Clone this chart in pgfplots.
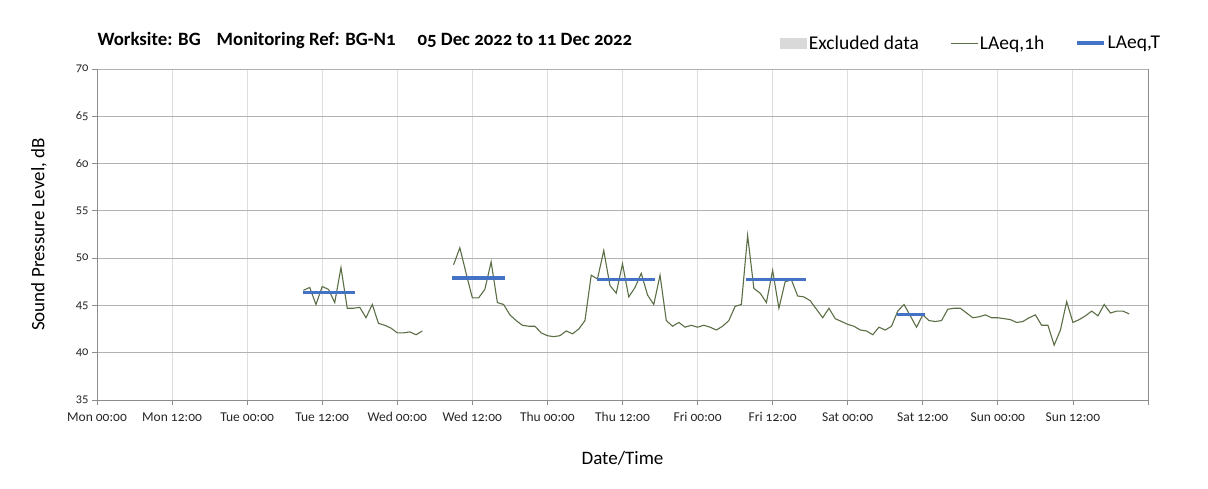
\documentclass[border=0pt]{standalone}
\usepackage{fontspec}
\setmainfont{Carlito}[Numbers=OldStyle]
\usepackage{pgfplots}
\pgfplotsset{compat=1.18}
\usepackage{pgfplotstable}

\definecolor{lineolive}{HTML}{5B6E45}
\definecolor{eqblue}{HTML}{4472C4}
\definecolor{excl}{HTML}{D9D9D9}

% hours from Mon 05 Dec 00:00, LAeq,1h in dB
\pgfplotstableread{
h v
33 46.6
34 46.9
35 45.1
36 47.0
37 46.7
38 45.3
39 49.0
40 44.7
41 44.7
42 44.8
43 43.7
44 45.1
45 43.1
46 42.9
47 42.6
48 42.1
49 42.1
50 42.2
51 41.9
52 42.3
}\tueseg

\pgfplotstableread{
h v
57 49.3
58 51.1
59 48.4
60 45.8
61 45.8
62 46.7
63 49.6
64 45.3
65 45.1
66 44.0
67 43.4
68 42.9
69 42.8
70 42.8
71 42.1
72 41.8
73 41.7
74 41.8
75 42.3
76 42.0
77 42.5
78 43.4
79 48.2
80 47.8
81 50.8
82 47.1
83 46.3
84 49.4
85 45.9
86 46.9
87 48.4
88 46.1
89 45.1
90 48.2
91 43.4
92 42.8
93 43.2
94 42.7
95 42.9
96 42.7
97 42.9
98 42.7
99 42.4
100 42.8
101 43.4
102 44.9
103 45.1
104 52.4
105 46.8
106 46.3
107 45.3
108 48.7
109 44.7
110 47.5
111 47.7
112 46.0
113 45.9
114 45.5
115 44.6
116 43.7
117 44.7
118 43.6
119 43.3
120 43.0
121 42.8
122 42.4
123 42.3
124 41.9
125 42.7
126 42.4
127 42.8
128 44.4
129 45.1
130 43.9
131 42.7
132 44.0
133 43.4
134 43.3
135 43.4
136 44.6
137 44.7
138 44.7
139 44.2
140 43.7
141 43.8
142 44.0
143 43.7
144 43.7
145 43.6
146 43.5
147 43.2
148 43.3
149 43.7
150 44.0
151 42.9
152 42.9
153 40.8
154 42.4
155 45.4
156 43.2
157 43.5
158 43.9
159 44.4
160 43.9
161 45.1
162 44.2
163 44.4
164 44.4
165 44.1
}\mainseg

\begin{document}
\begin{tikzpicture}
\path[use as bounding box] (-97pt,-88pt) rectangle (1111pt,400pt);
\begin{axis}[
    at={(0pt,0pt)}, anchor=origin,
    scale only axis,
    width=1051pt, height=331pt,
    xmin=0, xmax=168,
    ymin=35, ymax=70,
    xtick={0,12,...,168},
    xticklabels={Mon 00:00,Mon 12:00,Tue 00:00,Tue 12:00,Wed 00:00,Wed 12:00,Thu 00:00,Thu 12:00,Fri 00:00,Fri 12:00,Sat 00:00,Sat 12:00,Sun 00:00,Sun 12:00,{}},
    ytick={35,40,...,70},
    /pgf/number format/assume math mode=true,
    xticklabel style={font=\fontsize{13.5}{15}\selectfont, color=black!85, yshift=-4pt},
    yticklabel style={font=\fontsize{12.5}{14}\selectfont, color=black!85},
    tick align=outside,
    major tick length=5pt,
    tick style={color=black!45, line width=0.8pt},
    axis line style={color=black!45, line width=0.8pt},
    xmajorgrids, ymajorgrids,
    x grid style={color=black!13, line width=0.9pt},
    y grid style={color=black!30, line width=0.9pt},
    axis x line*=bottom,
    axis y line*=left,
    xlabel={Date/Time},
    ylabel={Sound Pressure Level, dB},
    label style={font=\fontsize{19}{21}\selectfont},
    xlabel style={yshift=-22pt},
    ylabel style={yshift=22pt},
    legend style={at={(axis description cs:1.016,1.0785)}, anchor=east,
      draw=none, fill=none, legend columns=3,
      font=\fontsize{19.5}{21}\selectfont,
      nodes={inner xsep=1.5pt},
      /tikz/every even column/.append style={column sep=30pt}},
    legend image code/.code={\draw[#1] (0pt,0pt) -- (27pt,0pt);},
]
\addlegendimage{area legend, fill=excl, draw=none, legend image code/.code={\fill[excl] (0pt,-5.5pt) rectangle (27pt,5.5pt);}}
\addlegendentry{Excluded data}
\addlegendimage{color=lineolive, line width=0.9pt}
\addlegendentry{LAeq,1h}
\addlegendimage{color=eqblue, line width=3.2pt}
\addlegendentry{LAeq,T}

\addplot[forget plot, draw=lineolive, line width=1.1pt, no markers] table[x=h, y=v] {\tueseg};
\addplot[forget plot, draw=lineolive, line width=1.1pt, no markers] table[x=h, y=v] {\mainseg};

\addplot[forget plot, draw=eqblue, line width=3.2pt, no markers] coordinates {(32.9,46.4) (41.2,46.4)};
\addplot[forget plot, draw=eqblue, line width=3.2pt, no markers] coordinates {(56.8,47.9) (65.2,47.9)};
\addplot[forget plot, draw=eqblue, line width=3.2pt, no markers] coordinates {(79.9,47.7) (89.2,47.7)};
\addplot[forget plot, draw=eqblue, line width=3.2pt, no markers] coordinates {(103.8,47.7) (113.3,47.7)};
\addplot[forget plot, draw=eqblue, line width=3.2pt, no markers] coordinates {(127.8,44.0) (132.3,44.0)};
\end{axis}
\draw[color=black!45, line width=0.8pt] (1051pt,0pt) -- (1051pt,331pt);
\node[anchor=west, font=\bfseries\fontsize{18.8}{20}\selectfont] at (-3pt,360pt)
  {Worksite: BG\hspace{16pt}Monitoring Ref: BG-N1\hspace{22pt}05 Dec 2022 to 11 Dec 2022};
\end{tikzpicture}
\end{document}
